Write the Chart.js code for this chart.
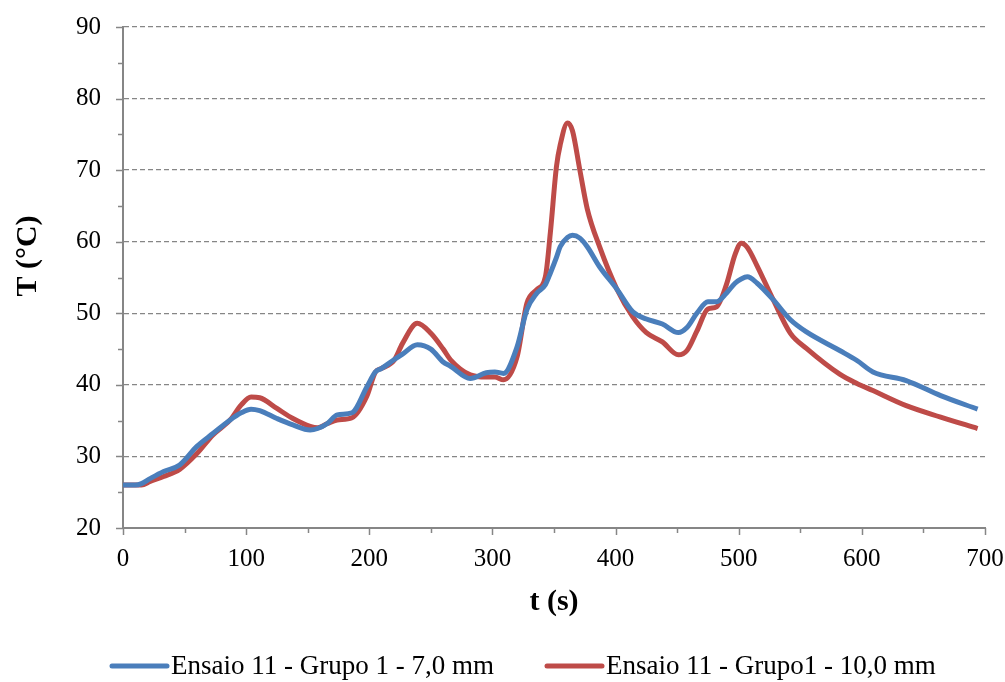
<!DOCTYPE html>
<html>
<head>
<meta charset="utf-8">
<script src="https://cdn.jsdelivr.net/npm/chart.js@4/dist/chart.umd.min.js"></script>
<style>
  html, body { margin: 0; padding: 0; background: #fff; }
  #wrap { width: 1005px; height: 682px; position: relative; }
</style>
</head>
<body>
<div id="wrap"><canvas id="c" width="1005" height="682"></canvas></div>
<script>
// Tempo (s)
const tempo = [0, 10, 15, 22, 33, 46, 60, 73, 87, 96, 104, 111, 125, 138, 152, 158, 166, 174, 186, 198,
  205, 210, 220, 227, 239, 250, 260, 266, 282, 295, 302, 309, 320, 328, 336, 343, 347, 352, 355, 361,
  365, 371, 377, 387, 401, 414, 425, 438, 451, 458, 466, 475, 482, 490, 497, 502, 507, 515, 528, 542,
  555, 582, 596, 609, 636, 664, 694];

// Temperatura (°C) - Ensaio 11, Grupo 1, 7,0 mm
const grupo1_7mm = [26.0, 26.0, 26.2, 26.9, 27.9, 28.8, 31.4, 33.2, 35.1, 36.1, 36.6, 36.4, 35.3, 34.4, 33.7, 33.9, 34.6, 35.8, 36.1, 39.7,
  41.8, 42.3, 43.5, 44.3, 45.6, 45.0, 43.2, 42.6, 40.9, 41.7, 41.8, 41.6, 45.3, 50.5, 52.8, 54.0, 55.6, 57.8, 59.3, 60.6,
  60.9, 60.5, 59.3, 56.5, 53.4, 50.2, 49.2, 48.5, 47.3, 48.0, 50.0, 51.6, 51.6, 52.8, 54.2, 54.8, 55.1, 54.2, 51.9, 49.1,
  47.4, 44.8, 43.4, 41.8, 40.6, 38.5, 36.6];

// Temperatura (°C) - Ensaio 11, Grupo 1, 10,0 mm
const grupo1_10mm = [26.0, 26.0, 26.0, 26.5, 27.2, 28.2, 30.4, 33.0, 35.1, 37.2, 38.3, 38.2, 36.7, 35.3, 34.2, 34.0, 34.6, 35.1, 35.4, 38.4,
  41.8, 42.3, 43.4, 45.8, 48.6, 47.2, 45.0, 43.5, 41.4, 41.1, 41.1, 40.7, 43.9, 51.4, 53.3, 55.1, 61.2, 70.5, 73.5, 76.6,
  75.5, 70.0, 64.6, 59.3, 53.4, 49.5, 47.3, 46.0, 44.2, 44.8, 47.5, 50.6, 50.9, 54.0, 58.2, 59.8, 59.2, 56.6, 51.9, 47.2,
  45.1, 41.5, 40.2, 39.2, 37.1, 35.5, 33.9];

const serieNomes = ['Ensaio 11 - Grupo 1 - 7,0 mm', 'Ensaio 11 - Grupo1 - 10,0 mm'];
const serieCores = ['#4a7ebb', '#be4b48'];

const FONT = '"Liberation Serif", "Times New Roman", serif';
const AXIS_GRAY = '#868686';

const pontos = ys => tempo.map((t, i) => ({ x: t, y: ys[i] }));

// Tick marks (major longer than minor), axis titles and the legend row
const extras = {
  id: 'extras',
  afterDraw(chart) {
    const ctx = chart.ctx;
    const xs = chart.scales.x, ys = chart.scales.y;
    const area = chart.chartArea;
    ctx.save();
    ctx.strokeStyle = AXIS_GRAY;
    ctx.lineWidth = 1.5;
    ys.ticks.forEach(tk => {
      const py = Math.round(ys.getPixelForValue(tk.value)) + 0.5;
      const len = tk.value % 10 === 0 ? 7 : 5;
      ctx.beginPath();
      ctx.moveTo(area.left - len, py);
      ctx.lineTo(area.left, py);
      ctx.stroke();
    });
    xs.ticks.forEach(tk => {
      const px = Math.round(xs.getPixelForValue(tk.value)) + 0.5;
      const len = tk.value % 100 === 0 ? 7 : 5;
      ctx.beginPath();
      ctx.moveTo(px, area.bottom);
      ctx.lineTo(px, area.bottom + len);
      ctx.stroke();
    });

    // axis titles
    ctx.fillStyle = '#000';
    ctx.font = 'bold 30px ' + FONT;
    ctx.textAlign = 'center';
    ctx.textBaseline = 'middle';
    ctx.fillText('t (s)', (area.left + area.right) / 2, 602);
    ctx.save();
    ctx.translate(28, 256);
    ctx.rotate(-Math.PI / 2);
    ctx.fillText('T (°C)', 0, 0);
    ctx.restore();

    // legend
    ctx.font = '27px ' + FONT;
    ctx.textAlign = 'left';
    const ly = 666;
    const itemX = [112, 547];
    chart.data.datasets.forEach((ds, i) => {
      const x0 = itemX[i];
      ctx.strokeStyle = ds.borderColor;
      ctx.lineWidth = 5;
      ctx.lineCap = 'round';
      ctx.beginPath();
      ctx.moveTo(x0, ly);
      ctx.lineTo(x0 + 55, ly);
      ctx.stroke();
      ctx.fillStyle = '#000';
      ctx.fillText(ds.label, x0 + 59, ly + 1);
    });
    ctx.restore();
  }
};

new Chart(document.getElementById('c'), {
  type: 'line',
  data: {
    datasets: [
      { label: serieNomes[0], data: pontos(grupo1_7mm), borderColor: serieCores[0], borderWidth: 5,
        pointRadius: 0, cubicInterpolationMode: 'monotone', fill: false },
      { label: serieNomes[1], data: pontos(grupo1_10mm), borderColor: serieCores[1], borderWidth: 5,
        pointRadius: 0, cubicInterpolationMode: 'monotone', fill: false }
    ]
  },
  options: {
    responsive: false,
    animation: false,
    events: [],
    layout: { padding: { top: 27, right: 20, left: 0, bottom: 0 } },
    plugins: { legend: { display: false }, tooltip: { enabled: false } },
    scales: {
      x: {
        type: 'linear',
        min: 0, max: 700,
        afterFit: s => { s.height = 154; s.paddingLeft = 0; s.paddingRight = 0; },
        ticks: {
          stepSize: 50,
          padding: 8,
          color: '#000',
          font: { family: FONT, size: 25 },
          maxRotation: 0,
          autoSkip: false,
          callback: v => (v % 100 === 0 ? String(v) : '')
        },
        grid: { display: false },
        border: { display: true, color: AXIS_GRAY, width: 2 }
      },
      y: {
        min: 20, max: 90,
        afterFit: s => { s.width = 123; s.paddingTop = 0; s.paddingBottom = 0; },
        ticks: {
          stepSize: 5,
          padding: 22,
          color: '#000',
          font: { family: FONT, size: 25 },
          autoSkip: false,
          callback: v => (v % 10 === 0 ? String(v) : '')
        },
        grid: {
          drawTicks: false,
          lineWidth: 1.3,
          color: c => (c.tick && c.tick.value % 10 === 0 && c.tick.value > 20 ? AXIS_GRAY : 'rgba(0,0,0,0)')
        },
        border: { display: true, color: AXIS_GRAY, width: 2, dash: [5, 3] }
      }
    }
  },
  plugins: [extras]
});
</script>
</body>
</html>
